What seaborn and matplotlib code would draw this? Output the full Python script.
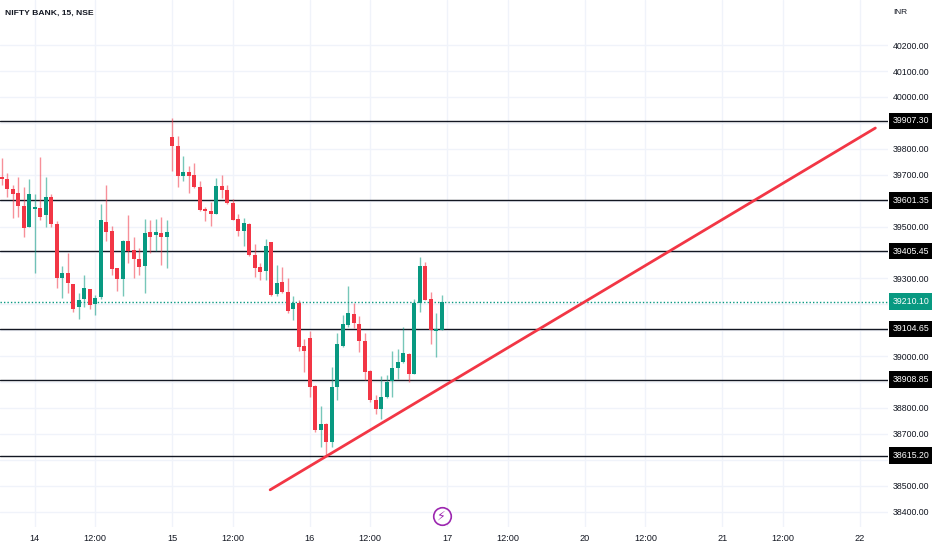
import matplotlib
matplotlib.use("Agg")
import matplotlib.pyplot as plt
import matplotlib.transforms as mtransforms
from matplotlib import font_manager
import numpy as np
import pandas as pd
import seaborn as sns

# 15-minute candles, NIFTY BANK
opens = [39690, 39682, 39645, 39628, 39579, 39499, 39569, 39570, 39544, 39613,
         39508, 39303, 39319, 39278, 39188, 39220, 39259, 39200, 39229, 39517,
         39483, 39339, 39296, 39445, 39409, 39373, 39348, 39478, 39467, 39474,
         39461, 39845, 39811, 39695, 39711, 39697, 39652, 39567, 39560, 39549,
         39657, 39641, 39590, 39528, 39481, 39510, 39391, 39342, 39330, 39442,
         39239, 39285, 39249, 39181, 39204, 39040, 39069, 38883, 38716, 38739,
         38667, 38880, 39040, 39121, 39162, 39125, 39060, 38943, 38831, 38797,
         38842, 38905, 38956, 38977, 39007, 38932, 39204, 39348, 39220, 39097,
         39102]
highs = [39763, 39705, 39660, 39690, 39654, 39682, 39626, 39770, 39690, 39626,
         39521, 39349, 39397, 39278, 39242, 39313, 39259, 39236, 39586, 39660,
         39502, 39339, 39448, 39544, 39461, 39416, 39529, 39525, 39529, 39538,
         39525, 39918, 39850, 39773, 39734, 39744, 39677, 39577, 39596, 39686,
         39699, 39661, 39605, 39549, 39532, 39513, 39432, 39361, 39451, 39442,
         39352, 39342, 39301, 39230, 39215, 39065, 39095, 38889, 38808, 38741,
         38957, 39091, 39159, 39269, 39204, 39153, 39088, 38947, 38851, 38924,
         38928, 39018, 39028, 39112, 39011, 39220, 39382, 39362, 39249, 39166,
         39236]
lows = [39660, 39615, 39532, 39538, 39458, 39499, 39322, 39525, 39499, 39499,
        39262, 39223, 39242, 39172, 39142, 39191, 39181, 39159, 39219, 39444,
        39313, 39253, 39232, 39358, 39300, 39313, 39245, 39399, 39407, 39352,
        39339, 39715, 39654, 39677, 39629, 39650, 39558, 39523, 39502, 39549,
        39609, 39587, 39526, 39464, 39425, 39387, 39307, 39294, 39294, 39230,
        39230, 39243, 39168, 39140, 39018, 38937, 38844, 38709, 38651, 38613,
        38651, 38831, 39037, 39114, 39108, 39014, 38908, 38821, 38776, 38757,
        38838, 38842, 38911, 38973, 38899, 38932, 39172, 39215, 39046, 38995,
        39102]
closes = [39682, 39645, 39626, 39579, 39496, 39626, 39577, 39538, 39613, 39508,
          39303, 39322, 39283, 39181, 39217, 39262, 39197, 39226, 39525, 39478,
          39336, 39299, 39445, 39406, 39373, 39345, 39474, 39461, 39478, 39461,
          39480, 39811, 39695, 39711, 39695, 39654, 39564, 39558, 39549, 39657,
          39641, 39590, 39526, 39481, 39515, 39391, 39339, 39326, 39423, 39236,
          39281, 39247, 39175, 39204, 39037, 39018, 38880, 38713, 38739, 38667,
          38880, 39046, 39123, 39166, 39127, 39059, 38937, 38829, 38797, 38842,
          38902, 38956, 38977, 39011, 38932, 39204, 39348, 39217, 39099, 39104,
          39210.10]

# horizontal levels drawn on the chart
levels = [39907.30, 39601.35, 39405.45, 39104.65, 38908.85, 38615.20]
last_price = 39210.10

# trend line anchors (bar index, price)
trend_idx = [48.8, 158.8]
trend_price = [38484, 39880]

# time axis labels (bar index -> label)
tick_idx = [6, 17, 31, 42, 56, 67, 81, 92, 106, 117, 131, 142, 156]
tick_lbl = ["14", "12:00", "15", "12:00", "16", "12:00", "17", "12:00",
            "20", "12:00", "21", "12:00", "22"]

price_ticks = list(range(38400, 40300, 100))

UP = "#089981"
DOWN = "#F23645"
TXT = "#131722"

# pick a narrow face if one is installed, otherwise shrink a regular one
installed = {f.name for f in font_manager.fontManager.ttflist}
if "Liberation Sans Narrow" in installed:
    FONT, FS, FS_X, FS_TITLE = "Liberation Sans Narrow", 7.0, 7.0, 7.0
elif "DejaVu Sans Condensed" in installed:
    FONT, FS, FS_X, FS_TITLE = "DejaVu Sans Condensed", 6.2, 6.5, 6.2
else:
    FONT, FS, FS_X, FS_TITLE = "Liberation Sans", 6.3, 6.6, 6.1

sns.set_theme(style="white")
plt.rcParams["font.family"] = [FONT, "DejaVu Sans"]

df = pd.DataFrame({"open": opens, "high": highs, "low": lows, "close": closes})
df["idx"] = np.arange(len(df))
df["up"] = df["close"] >= df["open"]
df["color"] = np.where(df["up"], UP, DOWN)
df["bottom"] = df[["open", "close"]].min(axis=1)
df["height"] = (df["close"] - df["open"]).abs().clip(lower=4)

fig = plt.figure(figsize=(9.32, 5.5), dpi=100)
ax = fig.add_axes([0.0, 0.042, 0.9528, 0.958])

# grid
for t in tick_idx:
    ax.axvline(t, color="#f0f3fa", lw=1, zorder=0)
for p in price_ticks:
    ax.axhline(p, color="#f0f3fa", lw=1, zorder=0)

# candles
ax.vlines(df["idx"], df["low"], df["high"], colors=df["color"], lw=1, alpha=0.55, zorder=2)
ax.bar(df["idx"], df["height"], bottom=df["bottom"], width=0.74,
       color=df["color"], edgecolor="none", zorder=3)

# levels
blend = mtransforms.blended_transform_factory(ax.transAxes, ax.transData)
for lvl in levels:
    ax.axhline(lvl, color=TXT, lw=1, zorder=1)
    ax.annotate(f"{lvl:.2f}", xy=(1.0, lvl), xycoords=blend, xytext=(3.5, 0),
                textcoords="offset points", ha="left", va="center", fontsize=FS,
                color="white", annotation_clip=False,
                bbox=dict(boxstyle="square,pad=0.45", fc="black", ec="none"))

ax.axhline(last_price, color=UP, lw=1, ls=(0, (1, 1.5)), zorder=1)
ax.annotate(f"{last_price:.2f}", xy=(1.0, last_price), xycoords=blend, xytext=(3.5, 0),
            textcoords="offset points", ha="left", va="center", fontsize=FS,
            color="white", annotation_clip=False,
            bbox=dict(boxstyle="square,pad=0.45", fc=UP, ec="none"))

# trend line
sns.lineplot(x=trend_idx, y=trend_price, color=DOWN, lw=2, ax=ax, zorder=4)

# axes
ax.set_xlim(-0.3, 161.1)
ax.set_ylim(38341, 40374)
hidden = {39900, 39600, 39400, 39200, 39100, 38900, 38600}
shown = [p for p in price_ticks if p not in hidden]
ax.yaxis.tick_right()
ax.set_yticks(shown)
ax.set_yticklabels([f"{p:.2f}" for p in shown])
ax.set_xticks(tick_idx)
ax.set_xticklabels(tick_lbl)
ax.tick_params(axis="both", length=0, colors=TXT)
ax.tick_params(axis="y", pad=3.5, labelsize=FS)
ax.tick_params(axis="x", pad=5, labelsize=FS_X)
for s in ["top", "left", "bottom", "right"]:
    ax.spines[s].set_visible(False)

# labels
ax.text(0.006, 0.974, "NIFTY BANK, 15, NSE", transform=ax.transAxes, fontsize=FS_TITLE,
        color=TXT, ha="left", va="center", fontweight="semibold")
fig.text(0.958, 0.978, "INR", fontsize=FS - 0.3, color=TXT, ha="left", va="center")

# event marker under the last session
mark = mtransforms.blended_transform_factory(ax.transData, ax.transAxes)
ax.scatter([80], [0.021], transform=mark, s=160, facecolor="white",
           edgecolor="#9c27b0", lw=1.2, zorder=5, clip_on=False)
ax.text(80, 0.021, "\u26a1", transform=mark, ha="center", va="center",
        fontsize=9, color="#9c27b0", family="DejaVu Sans", zorder=6)

fig.savefig("out.png", dpi=100, facecolor="white")
